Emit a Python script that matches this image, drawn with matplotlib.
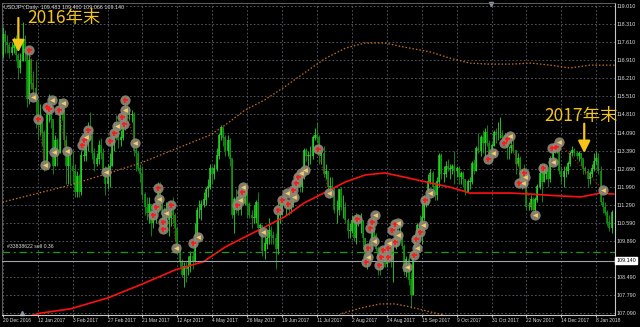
import matplotlib
matplotlib.use('agg')
import matplotlib.pyplot as plt

# USDJPY daily bars, 20 Dec 2016 .. 17 Jan 2018 (one bar per trading day)
close = [117.9, 117.6, 117.5, 117.2, 117.4, 117.5, 117.1, 116.6, 116.9, 117.7,
         117.2, 115.4, 116.9, 116.0, 115.8, 115.3, 114.4, 114.5, 114.1, 112.7,
         114.8, 115.1, 114.6, 112.8, 113.8, 113.3, 115.4, 115.1, 113.8, 112.8,
         113.2, 112.8, 112.6, 111.8, 112.4, 111.8, 113.2, 113.2, 113.7, 114.3,
         114.2, 113.3, 112.9, 113.1, 113.6, 113.3, 112.6, 112.1, 112.7, 112.8,
         113.7, 114.3, 114.0, 113.8, 113.9, 114.4, 115.0, 114.8, 114.8, 114.8,
         113.4, 113.3, 112.7, 112.5, 111.7, 111.2, 111.0, 111.3, 110.6, 111.0,
         111.1, 111.9, 111.4, 110.9, 110.7, 110.7, 110.8, 111.1, 110.9, 110.4,
         109.6, 109.1, 108.6, 108.9, 108.8, 108.9, 109.3, 109.1, 110.1, 111.1,
         111.1, 111.3, 111.5, 111.9, 112.0, 112.7, 112.5, 112.7, 113.2, 114.0,
         114.3, 113.9, 113.4, 113.8, 113.1, 110.9, 111.5, 111.3, 111.2, 111.8,
         111.6, 111.8, 111.3, 110.9, 110.8, 110.8, 111.4, 110.4, 110.5, 109.5,
         109.8, 110.0, 110.3, 110.1, 110.0, 109.6, 110.9, 110.9, 111.5, 111.4,
         111.4, 111.3, 111.3, 111.9, 112.3, 112.3, 112.0, 112.4, 113.4, 113.2,
         113.2, 113.2, 113.9, 114.0, 113.9, 113.2, 113.3, 112.5, 112.6, 112.0,
         112.0, 111.9, 111.1, 111.1, 111.9, 111.2, 111.2, 110.7, 110.3, 110.3,
         110.7, 110.0, 110.7, 110.7, 110.7, 110.0, 109.2, 109.2, 109.6, 110.6,
         110.1, 109.6, 109.2, 108.9, 109.5, 109.0, 109.5, 109.3, 109.2, 109.7,
         110.3, 110.1, 110.2, 109.7, 108.7, 109.2, 108.4, 107.8, 109.4, 110.1,
         110.5, 110.2, 110.8, 111.6, 111.6, 112.2, 112.5, 112.0, 111.7, 112.2,
         113.2, 112.5, 112.5, 112.8, 112.7, 112.7, 112.8, 112.6, 112.7, 112.4,
         112.5, 112.3, 111.8, 112.2, 112.2, 112.9, 112.6, 113.5, 113.4, 113.9,
         113.7, 114.1, 113.7, 113.2, 113.6, 114.1, 114.0, 114.0, 114.0, 113.9,
         114.0, 113.5, 113.5, 113.6, 113.4, 112.9, 113.1, 112.1, 112.6, 112.5,
         111.2, 111.2, 111.5, 111.1, 111.5, 112.0, 112.5, 112.2, 112.5, 112.6,
         112.3, 113.1, 113.5, 113.5, 113.6, 112.6, 112.4, 112.6, 112.6, 112.9,
         113.3, 113.4, 113.3, 113.2, 113.3, 113.1, 112.7, 112.6, 112.3, 112.5,
         112.7, 113.0, 113.1, 112.6, 111.4, 111.2, 111.0, 110.6, 110.4, 111.0]
high = [118.2, 118.1, 117.9, 117.6, 117.6, 117.8, 117.9, 117.2, 117.2, 118.4,
        117.9, 117.4, 117.2, 117.0, 116.5, 116.9, 115.4, 115.2, 114.5, 114.2,
        114.9, 115.6, 115.3, 114.6, 114.0, 113.9, 115.4, 115.4, 115.0, 114.0,
        113.5, 113.3, 113.4, 112.9, 112.6, 112.5, 113.4, 113.9, 114.2, 114.5,
        114.9, 114.2, 113.5, 113.3, 113.8, 113.9, 113.5, 112.8, 112.9, 113.3,
        114.0, 114.5, 114.8, 114.2, 114.2, 114.5, 115.3, 115.5, 115.1, 115.0,
        114.9, 113.6, 113.4, 112.9, 112.8, 111.8, 111.6, 111.6, 111.1, 111.3,
        111.5, 112.2, 112.2, 111.6, 111.2, 111.4, 111.1, 111.4, 111.6, 111.0,
        110.5, 109.8, 109.2, 109.1, 109.1, 109.3, 109.5, 109.5, 110.6, 111.2,
        111.5, 111.5, 111.8, 112.0, 112.3, 112.9, 112.8, 112.9, 113.5, 114.1,
        114.4, 114.3, 114.0, 114.0, 113.9, 113.1, 111.6, 111.9, 111.8, 111.9,
        112.1, 112.0, 111.9, 111.4, 111.1, 111.3, 111.5, 111.8, 110.6, 110.5,
        110.1, 110.2, 110.8, 110.5, 110.3, 110.2, 111.4, 111.4, 111.6, 111.8,
        111.6, 111.5, 111.4, 112.0, 112.5, 112.5, 112.4, 112.6, 113.5, 113.5,
        113.4, 113.6, 114.0, 114.3, 114.5, 114.0, 113.4, 113.6, 112.9, 112.6,
        112.4, 112.4, 112.0, 111.5, 111.9, 112.0, 111.7, 111.4, 110.8, 110.6,
        110.9, 110.8, 111.0, 110.9, 111.0, 110.5, 110.0, 109.5, 109.9, 110.8,
        110.9, 110.2, 109.7, 109.4, 109.6, 109.6, 109.6, 109.8, 109.5, 109.8,
        110.7, 110.7, 110.7, 110.2, 109.8, 109.3, 109.3, 108.7, 109.5, 110.2,
        110.6, 110.9, 111.4, 111.7, 111.7, 112.5, 112.7, 112.6, 112.2, 112.4,
        113.3, 113.3, 112.8, 113.0, 113.1, 112.9, 112.9, 113.4, 112.8, 112.8,
        112.6, 112.6, 112.3, 112.3, 112.4, 113.0, 113.1, 113.6, 114.1, 114.0,
        114.2, 114.3, 114.4, 113.8, 113.7, 114.2, 114.3, 114.5, 114.7, 114.2,
        114.1, 114.1, 113.6, 113.8, 113.9, 113.4, 113.3, 113.2, 112.7, 112.9,
        112.5, 111.4, 111.7, 111.6, 111.6, 112.1, 112.9, 112.9, 112.9, 112.8,
        112.7, 113.2, 113.6, 113.7, 113.8, 113.8, 112.8, 112.8, 112.8, 113.0,
        113.4, 113.6, 113.5, 113.4, 113.4, 113.3, 113.1, 112.8, 112.7, 112.6,
        112.9, 113.3, 113.4, 113.3, 112.8, 111.6, 111.4, 111.1, 110.9, 111.1]
low = [117.0, 117.2, 117.2, 117.0, 117.1, 117.2, 116.9, 116.2, 116.4, 116.9,
       116.9, 115.1, 115.2, 115.8, 115.5, 114.3, 113.8, 114.0, 113.6, 112.6,
       112.8, 114.5, 114.3, 112.5, 112.9, 112.8, 113.3, 114.6, 113.6, 112.1,
       112.1, 112.1, 112.1, 111.6, 111.6, 111.6, 111.7, 113.0, 113.0, 113.4,
       113.8, 113.1, 112.6, 112.8, 112.9, 113.1, 112.5, 111.7, 111.9, 112.0,
       112.9, 113.4, 113.8, 113.5, 113.6, 113.8, 114.2, 114.6, 114.6, 114.5,
       113.2, 112.6, 112.6, 112.2, 111.5, 110.9, 110.7, 110.6, 110.1, 110.4,
       110.6, 111.0, 111.2, 110.7, 110.3, 110.5, 110.1, 110.5, 110.6, 109.9,
       109.4, 108.9, 108.5, 108.1, 108.3, 108.6, 108.7, 108.8, 109.6, 110.0,
       110.8, 110.7, 111.2, 111.3, 111.6, 111.9, 112.1, 112.3, 112.6, 113.1,
       113.8, 113.6, 113.2, 113.2, 112.8, 110.8, 110.2, 111.0, 110.9, 110.9,
       111.3, 111.3, 110.8, 110.8, 110.4, 110.6, 110.6, 110.3, 110.2, 109.3,
       109.2, 109.6, 109.8, 109.8, 109.8, 108.8, 109.4, 110.6, 110.9, 111.3,
       110.9, 110.9, 111.0, 111.2, 111.6, 112.0, 111.8, 111.8, 112.3, 113.0,
       112.8, 112.9, 113.1, 113.8, 113.7, 112.9, 112.9, 112.4, 112.3, 111.7,
       111.6, 111.8, 111.0, 110.6, 110.9, 111.1, 110.8, 110.6, 110.0, 110.0,
       110.2, 109.9, 109.8, 110.5, 110.2, 109.6, 109.0, 108.8, 109.2, 109.5,
       110.0, 109.5, 108.6, 108.6, 108.8, 108.9, 108.9, 109.1, 108.9, 108.3,
       109.6, 109.9, 109.9, 109.6, 108.6, 108.5, 108.2, 107.3, 108.3, 109.3,
       109.9, 110.0, 109.8, 110.7, 111.2, 111.3, 112.1, 111.7, 111.5, 111.5,
       112.0, 112.3, 112.2, 112.4, 112.6, 112.3, 112.5, 112.1, 112.4, 112.1,
       112.1, 112.0, 111.7, 111.8, 111.9, 112.1, 112.5, 112.6, 113.3, 113.2,
       113.3, 113.2, 113.6, 112.9, 113.0, 113.6, 113.7, 113.8, 113.9, 113.7,
       113.8, 113.1, 113.1, 113.3, 113.3, 112.5, 112.8, 112.0, 111.9, 112.2,
       111.1, 111.1, 111.1, 110.8, 110.9, 111.4, 111.9, 111.4, 112.2, 112.3,
       112.0, 112.2, 113.0, 113.3, 113.3, 112.5, 112.1, 112.0, 112.4, 112.5,
       112.8, 113.2, 113.2, 113.1, 113.0, 112.8, 112.5, 112.5, 112.0, 112.1,
       112.4, 112.6, 112.9, 112.5, 111.3, 111.0, 110.9, 110.5, 110.3, 110.2]
first_open = 117.1

# 200-day moving average (red) read at a few bars
ma_bar = [0, 17, 31, 48, 63, 79, 92, 102, 111, 120, 129, 138, 148, 157, 166,
          175, 184, 196, 205, 214, 223, 233, 242, 255, 265, 274, 280]
ma_val = [106.70, 107.10, 107.27, 107.69, 108.20, 108.78, 109.10, 109.67, 110.06,
          110.44, 110.83, 111.37, 111.80, 112.19, 112.46, 112.54, 112.38, 112.15,
          111.99, 111.76, 111.76, 111.76, 111.72, 111.65, 111.61, 111.76, 111.72]

# upper / lower bands (orange dotted)
up_bar = [-2, 31, 63, 95, 102, 111, 120, 129, 138, 148, 157, 166, 175, 184,
          196, 205, 214, 223, 233, 242, 251, 260, 269, 281]
up_val = [111.37, 112.07, 112.92, 114.01, 114.40, 114.98, 115.37, 115.87, 116.41,
          116.99, 117.38, 117.58, 117.58, 117.42, 117.23, 116.99, 116.80, 116.76,
          116.76, 116.80, 116.72, 116.61, 116.72, 116.72]
lo_bar = [150, 156, 164, 173, 180, 187, 196, 202, 208]
lo_val = [106.80, 107.11, 107.30, 107.46, 107.46, 107.34, 107.15, 107.03, 106.80]

# trade marks: closes (red cross) and opens (yellow arrow)
close_bar = [12.1, 16.2, 20, 21.2, 25.8, 36.1, 37.2, 39.1, 49.1, 51.1, 54.4, 55.5,
             56.1, 71.3, 70.2, 69, 73.3, 73.5, 77.2, 87, 107.2, 109.5, 126.3,
             128.1, 130.6, 133.2, 134.3, 135.2, 144.4, 162.2, 168.3, 169.4, 167.3,
             166.5, 172.2, 173.4, 174.4, 176.5, 176.5, 178.3, 179.8, 179.8, 188.5,
             189.4, 191, 193.6, 222.6, 229.8, 231, 238.7, 236.4, 247.6, 251.7, 253.7]
close_px = [117.30, 114.63, 115.10, 115.02, 114.98, 113.62, 113.82, 114.20, 113.79,
            114.10, 114.72, 114.44, 115.37, 111.94, 111.21, 110.91, 110.65, 110.36,
            111.30, 109.81, 111.30, 111.81, 111.10, 111.49, 111.34, 111.88, 112.16,
            112.39, 113.45, 110.75, 110.42, 110.65, 109.62, 109.08, 108.97, 109.29,
            109.55, 109.62, 109.29, 110.33, 110.55, 109.87, 109.36, 109.97, 110.26,
            111.49, 113.07, 113.69, 113.84, 112.53, 112.16, 112.74, 113.49, 113.56]
open_bar = [13.9, 19.3, 22.3, 23.4, 27.4, 29.2, 38.1, 47.2, 52.2, 56, 60.4, 71.7,
            74.8, 79.4, 89.4, 108.7, 110.2, 119.4, 130.1, 133.6, 136.7, 138.5,
            149.5, 170.6, 169.9, 167.6, 177.1, 181.3, 181, 185.3, 189.8, 192.5,
            195.6, 224.9, 232.3, 239.4, 238.4, 243.7, 252.1, 255, 275.1]
open_px = [115.49, 112.85, 115.37, 113.35, 115.24, 113.40, 113.94, 112.56, 114.36,
           114.98, 113.69, 111.52, 110.97, 109.62, 110.07, 111.49, 112.01, 110.26,
           111.75, 111.62, 112.53, 112.65, 111.75, 110.91, 109.90, 109.29, 109.84,
           110.61, 110.13, 108.91, 109.62, 110.52, 111.77, 113.30, 113.97, 112.39,
           112.16, 110.91, 112.97, 113.75, 111.88]
# dotted trade lines (open -> close)
trade_bar = [(12.5, 14), (16.5, 19), (25.8, 29), (56, 60.4), (77, 79.4),
             (144.4, 149.5), (232.3, 243.7), (255, 275)]
trade_px = [(117.2, 115.5), (114.5, 112.9), (114.9, 113.4), (115.2, 113.7),
            (111.3, 109.7), (113.4, 111.8), (113.9, 110.9), (113.7, 111.9)]

date_labels = ['20 Dec 2016', '12 Jan 2017', '3 Feb 2017', '27 Feb 2017',
               '21 Mar 2017', '12 Apr 2017', '4 May 2017', '26 May 2017',
               '19 Jun 2017', '11 Jul 2017', '2 Aug 2017', '24 Aug 2017',
               '15 Sep 2017', '9 Oct 2017', '31 Oct 2017', '22 Nov 2017',
               '14 Dec 2017', '8 Jan 2018']
price_labels = ['107.090', '107.790', '108.490', '109.890', '110.590', '111.290',
                '111.990', '112.690', '113.390', '114.090', '114.810', '115.510',
                '116.210', '116.910', '117.610', '118.310', '119.010']
bid = 109.140
order_price = 109.46

small = 'Liberation Sans'
txt_col = '#dcdcdc'
grid_col = '#5c606a'

fig = plt.figure(figsize=(6.4, 3.27), dpi=100, facecolor='black')
ax = fig.add_axes([2 / 640, 12.5 / 327, 613 / 640, 312 / 327], facecolor='black')

n = len(close)
xs = list(range(n))
opens = [first_open] + close[:-1]
for i in xs:
    o, c = opens[i], close[i]
    col = '#22dd22' if c >= o else '#129a12'
    ax.vlines(i, min(low[i], o, c), max(high[i], o, c), color=col, lw=0.6, zorder=2)
    ax.vlines(i, min(o, c), max(o, c) + 0.02, color=col, lw=1.1, zorder=2)

ax.plot(up_bar, up_val, color='#c8701e', lw=0.9, ls=(0, (1.2, 1.6)), zorder=3)
ax.plot(lo_bar, lo_val, color='#c8701e', lw=0.9, ls=(0, (1.2, 1.6)), zorder=3)
ax.plot(ma_bar, ma_val, color='#ff1010', lw=1.2, zorder=3)

ax.axhline(order_price, color='#1c9a1c', lw=0.9, ls=(0, (6, 3, 1.5, 3)), zorder=3)
ax.axhline(bid, color='#9ea3ae', lw=0.8, zorder=3)

for (b0, b1), (p0, p1) in zip(trade_bar, trade_px):
    ax.plot([b0, b1], [p0, p1], color='#e01010', lw=0.8, ls=(0, (1, 2)), zorder=4)

ax.plot(close_bar, close_px, 'o', ms=7.4, color='#8d8778', alpha=0.92, mew=0, zorder=5)
ax.plot(open_bar, open_px, 'o', ms=7.4, color='#8d8778', alpha=0.92, mew=0, zorder=5)
ax.plot(close_bar, close_px, '+', ms=3.6, color='#ff1a1a', mew=1.3, zorder=6)
ax.plot(open_bar, open_px, '<', ms=3.4, color='#f3cf6a', mew=0, zorder=6)

ax.set_xlim(-0.4, 280.6)
ax.set_ylim(107.05, 119.15)

ax.set_xticks(range(0, 16 * len(date_labels), 16))
ax.set_xticklabels(date_labels, ha='left', fontsize=3.5, family=small, color=txt_col)
ax.set_yticks([float(v) for v in price_labels])
ax.set_yticklabels(price_labels, fontsize=3.9, family=small, color=txt_col)
ax.yaxis.tick_right()
ax.tick_params(axis='x', length=1.5, pad=1.2, color='#c0c0c0')
ax.tick_params(axis='y', length=0, pad=1.4, color='#c0c0c0')
ax.grid(True, color=grid_col, lw=0.6, ls=(0, (2, 2.5)))
for side in ['left', 'top']:
    ax.spines[side].set_color('#707070')
    ax.spines[side].set_linewidth(0.6)
for side in ['right', 'bottom']:
    ax.spines[side].set_color('#c8c8c8')
    ax.spines[side].set_linewidth(0.8)

# current price box on the right scale
ax.text(1.002, bid, '109.140', transform=ax.get_yaxis_transform(), ha='left',
        va='center', fontsize=3.9, family=small, color='black', zorder=7,
        bbox=dict(boxstyle='square,pad=0.2', fc='white', ec='white'), clip_on=False)

ax.text(0.003, 0.993, 'USDJPY,Daily  109.483 109.460 109.066 109.140',
        transform=ax.transAxes, ha='left', va='top', fontsize=3.9, family=small,
        color=txt_col)
ax.text(2, order_price + 0.12, '#33838622 sell 0.36', ha='left', va='bottom',
        fontsize=3.7, family=small, color=txt_col)

ax.plot([0.033], [0.006], '^', ms=3, color='#8890a0', transform=ax.transAxes, clip_on=False)
ax.plot([0.798], [0.994], 'v', ms=3, color='#8890a0', transform=ax.transAxes, clip_on=False)

yellow = '#f5c518'
cjk = ['Noto Sans CJK JP', 'DejaVu Sans']
ax.text(11.4, 118.55, '2016年末', ha='left', va='center', fontsize=12.5,
        family=cjk, color=yellow, zorder=8)
ax.text(248.0, 114.75, '2017年末', ha='left', va='center', fontsize=12.5,
        family=cjk, color=yellow, zorder=8)
arrow = dict(arrowstyle='-|>', color=yellow, lw=1.6, mutation_scale=18,
             shrinkA=0, shrinkB=0)
ax.annotate('', xy=(7.1, 117.22), xytext=(7.1, 118.55), arrowprops=arrow, zorder=8)
ax.annotate('', xy=(266.5, 113.31), xytext=(266.5, 114.45), arrowprops=arrow, zorder=8)

fig.savefig('out.png', dpi=100, facecolor='black')
